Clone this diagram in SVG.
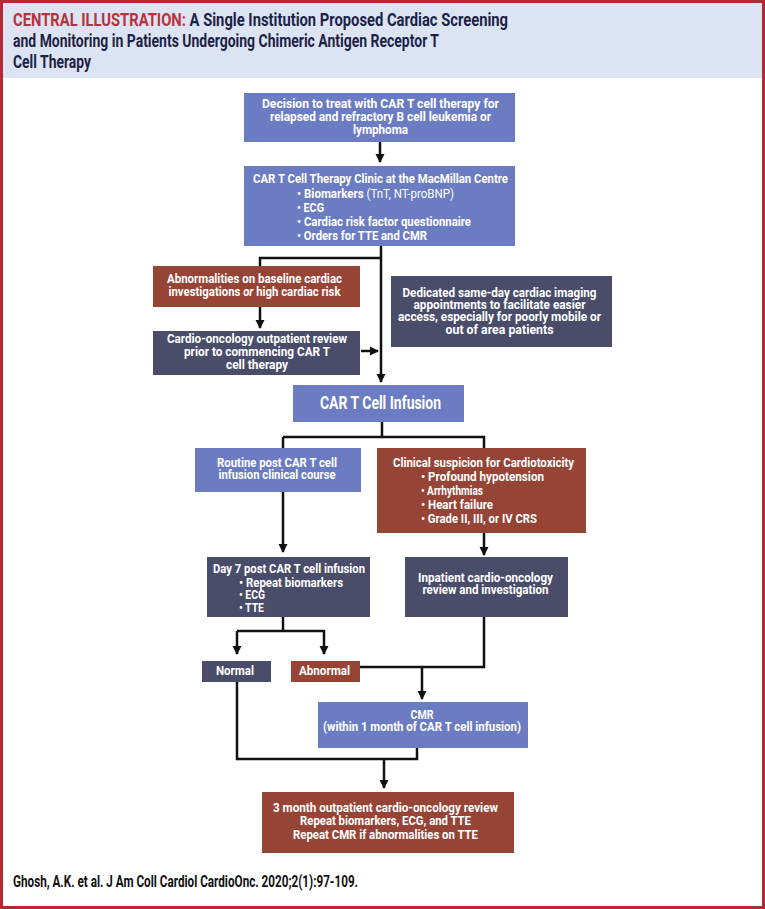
<svg xmlns="http://www.w3.org/2000/svg" width="765" height="909" viewBox="0 0 765 909">
<defs>
<marker id="ah" markerWidth="10" markerHeight="10" refX="8" refY="5" orient="auto" markerUnits="userSpaceOnUse">
<path d="M0,0.5 L9,5 L0,9.5 z" fill="#111"/>
</marker>
<style>
text{font-family:Roboto,"Liberation Sans",sans-serif;font-weight:bold;}
.t{fill:#fff;}
.c{text-anchor:middle;}
.s{font-size:12px;}
.blue{fill:#6b7cc2;}
.red{fill:#964436;}
.dark{fill:#4a4d6a;}
.ln{fill:none;stroke:#111;stroke-width:2.5;}
.ar{marker-end:url(#ah);}
.nw{font-weight:normal;}
</style>
</defs>
<rect x="0" y="0" width="765" height="909" fill="#fff"/>
<rect x="2" y="2" width="761" height="76" fill="#dce3f2"/>
<g id="title" font-size="18" fill="#1b2348">
<text x="13" y="26" textLength="495" lengthAdjust="spacingAndGlyphs"><tspan fill="#b5333b">CENTRAL ILLUSTRATION:</tspan> A Single Institution Proposed Cardiac Screening</text>
<text x="13" y="47" textLength="426" lengthAdjust="spacingAndGlyphs">and Monitoring in Patients Undergoing Chimeric Antigen Receptor T</text>
<text x="13" y="68" textLength="78" lengthAdjust="spacingAndGlyphs">Cell Therapy</text>
</g>
<g id="connectors">
<line class="ln ar" x1="380" y1="142" x2="380" y2="162"/>
<line class="ln ar" x1="381" y1="246" x2="381" y2="382"/>
<polyline class="ln ar" points="381,258 260,258 260,328"/>
<line class="ln ar" x1="361" y1="351" x2="378" y2="351"/>
<polyline class="ln" points="382,422 382,437"/>
<polyline class="ln ar" points="283,437 283,552"/>
<polyline class="ln ar" points="283,437 484,437 484,555"/>
<polyline class="ln" points="283,617 283,631"/>
<polyline class="ln ar" points="237,631 237,654"/>
<polyline class="ln ar" points="237,631 324,631 324,654"/>
<polyline class="ln" points="484,617 484,667 360,667"/>
<line class="ln ar" x1="422" y1="667" x2="422" y2="699"/>
<polyline class="ln" points="237,682 237,759 417,759 417,748"/>
<line class="ln ar" x1="384" y1="759" x2="384" y2="788"/>
</g>
<g id="decision">
<rect class="blue" x="244" y="93" width="271" height="49"/>
<text class="t c s" x="380.5" y="108" textLength="237" lengthAdjust="spacingAndGlyphs">Decision to treat with CAR T cell therapy for</text>
<text class="t c s" x="380.5" y="121" textLength="221" lengthAdjust="spacingAndGlyphs">relapsed and refractory B cell leukemia or</text>
<text class="t c s" x="380.5" y="134" textLength="55" lengthAdjust="spacingAndGlyphs">lymphoma</text>
</g>
<g id="clinic">
<rect class="blue" x="244" y="166" width="271" height="80"/>
<text class="t c" x="380.5" y="183" font-size="13" textLength="255" lengthAdjust="spacingAndGlyphs">CAR T Cell Therapy Clinic at the MacMillan Centre</text>
<text class="t" x="297" y="198" font-size="13" textLength="157" lengthAdjust="spacingAndGlyphs">• Biomarkers <tspan class="nw">(TnT, NT-proBNP)</tspan></text>
<text class="t" x="297" y="212" font-size="13" textLength="27" lengthAdjust="spacingAndGlyphs">• ECG</text>
<text class="t" x="297" y="226" font-size="13" textLength="174" lengthAdjust="spacingAndGlyphs">• Cardiac risk factor questionnaire</text>
<text class="t" x="297" y="240" font-size="13" textLength="130" lengthAdjust="spacingAndGlyphs">• Orders for TTE and CMR</text>
</g>
<g id="abnormalities">
<rect class="red" x="153" y="266" width="207" height="41"/>
<text class="t c s" x="254.5" y="283" textLength="175" lengthAdjust="spacingAndGlyphs">Abnormalities on baseline cardiac</text>
<text class="t c s" x="254.5" y="296" textLength="172" lengthAdjust="spacingAndGlyphs">investigations <tspan font-style="italic">or</tspan> high cardiac risk</text>
</g>
<g id="review">
<rect class="dark" x="153" y="331" width="207" height="44"/>
<text class="t c s" x="257" y="343" textLength="180" lengthAdjust="spacingAndGlyphs">Cardio-oncology outpatient review</text>
<text class="t c s" x="257" y="356" textLength="146" lengthAdjust="spacingAndGlyphs">prior to commencing CAR T</text>
<text class="t c s" x="257" y="369" textLength="62" lengthAdjust="spacingAndGlyphs">cell therapy</text>
</g>
<g id="dedicated">
<rect class="dark" x="391" y="276" width="221" height="71"/>
<text class="t c s" x="499.5" y="297" textLength="194" lengthAdjust="spacingAndGlyphs">Dedicated same-day cardiac imaging</text>
<text class="t c s" x="499.5" y="309" textLength="172" lengthAdjust="spacingAndGlyphs">appointments to facilitate easier</text>
<text class="t c s" x="499.5" y="321" textLength="203" lengthAdjust="spacingAndGlyphs">access, especially for poorly mobile or</text>
<text class="t c s" x="499.5" y="334" textLength="108" lengthAdjust="spacingAndGlyphs">out of area patients</text>
</g>
<g id="infusion">
<rect class="blue" x="293" y="385" width="171" height="37"/>
<text class="t c" x="380.5" y="409" font-size="18" textLength="121" lengthAdjust="spacingAndGlyphs">CAR T Cell Infusion</text>
</g>
<g id="routine">
<rect class="blue" x="195" y="448" width="166" height="44"/>
<text class="t c s" x="277" y="467" textLength="120" lengthAdjust="spacingAndGlyphs">Routine post CAR T cell</text>
<text class="t c s" x="277" y="479" textLength="117" lengthAdjust="spacingAndGlyphs">infusion clinical course</text>
</g>
<g id="suspicion">
<rect class="red" x="377" y="448" width="209" height="85"/>
<text class="t c s" x="483.5" y="467" textLength="181" lengthAdjust="spacingAndGlyphs">Clinical suspicion for Cardiotoxicity</text>
<text class="t s" x="421" y="481" textLength="123" lengthAdjust="spacingAndGlyphs">• Profound hypotension</text>
<text class="t s" x="421" y="495" textLength="62" lengthAdjust="spacingAndGlyphs">• Arrhythmias</text>
<text class="t s" x="421" y="509" textLength="72" lengthAdjust="spacingAndGlyphs">• Heart failure</text>
<text class="t s" x="421" y="523" textLength="116" lengthAdjust="spacingAndGlyphs">• Grade II, III, or IV CRS</text>
</g>
<g id="day7">
<rect class="dark" x="207" y="557" width="163" height="60"/>
<text class="t c s" x="289" y="573" textLength="152" lengthAdjust="spacingAndGlyphs">Day 7 post CAR T cell infusion</text>
<text class="t s" x="239" y="587" textLength="104" lengthAdjust="spacingAndGlyphs">• Repeat biomarkers</text>
<text class="t s" x="239" y="599" textLength="26" lengthAdjust="spacingAndGlyphs">• ECG</text>
<text class="t s" x="239" y="612" textLength="25" lengthAdjust="spacingAndGlyphs">• TTE</text>
</g>
<g id="inpatient">
<rect class="dark" x="405" y="557" width="163" height="60"/>
<text class="t c s" x="485.5" y="582" textLength="135" lengthAdjust="spacingAndGlyphs">Inpatient cardio-oncology</text>
<text class="t c s" x="485.5" y="594" textLength="126" lengthAdjust="spacingAndGlyphs">review and investigation</text>
</g>
<g id="normal">
<rect class="dark" x="202" y="661" width="69" height="21"/>
<text class="t c s" x="235" y="675" textLength="38" lengthAdjust="spacingAndGlyphs">Normal</text>
</g>
<g id="abnormal">
<rect class="red" x="291" y="661" width="69" height="21"/>
<text class="t c s" x="324.5" y="675" textLength="51" lengthAdjust="spacingAndGlyphs">Abnormal</text>
</g>
<g id="cmr">
<rect class="blue" x="318" y="702" width="210" height="46"/>
<text class="t c s" x="422" y="719" textLength="23" lengthAdjust="spacingAndGlyphs">CMR</text>
<text class="t c s" x="422" y="731" textLength="198" lengthAdjust="spacingAndGlyphs">(within 1 month of CAR T cell infusion)</text>
</g>
<g id="final">
<rect class="red" x="262" y="792" width="252" height="61"/>
<text class="t c s" x="385.5" y="812" textLength="225" lengthAdjust="spacingAndGlyphs">3 month outpatient cardio-oncology review</text>
<text class="t c s" x="385.5" y="825" textLength="171" lengthAdjust="spacingAndGlyphs">Repeat biomarkers, ECG, and TTE</text>
<text class="t c s" x="385.5" y="839" textLength="185" lengthAdjust="spacingAndGlyphs">Repeat CMR if abnormalities on TTE</text>
</g>
<g id="citation">
<text x="13" y="887" font-size="17" fill="#111" textLength="345" lengthAdjust="spacingAndGlyphs">Ghosh, A.K. et al. J Am Coll Cardiol CardioOnc. 2020;2(1):97-109.</text>
</g>
<rect x="1.5" y="1.5" width="762" height="906" fill="none" stroke="#b22a33" stroke-width="3"/>
</svg>
